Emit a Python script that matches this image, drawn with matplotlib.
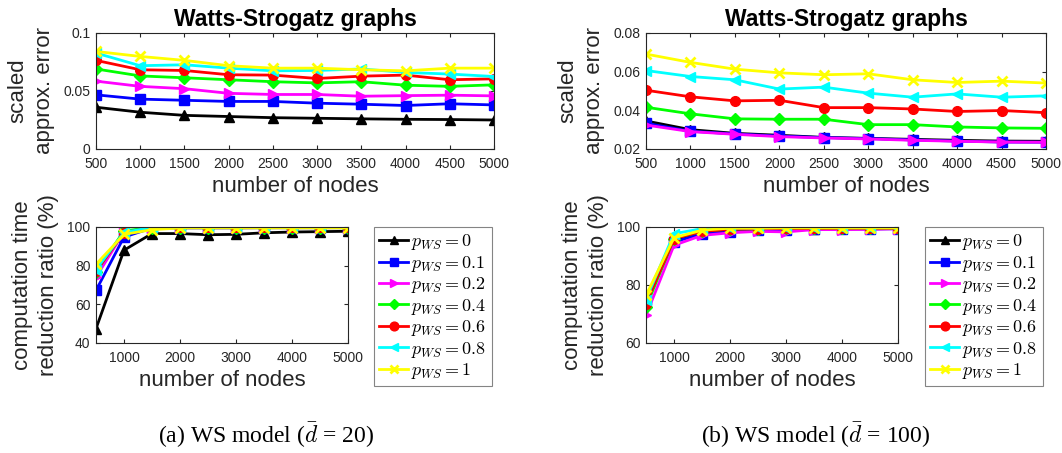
import matplotlib
matplotlib.use('Agg')
import matplotlib.pyplot as plt

plt.rcParams['font.family'] = ['Liberation Sans', 'DejaVu Sans']
plt.rcParams['mathtext.fontset'] = 'cm'

nodes = [500, 1000, 1500, 2000, 2500, 3000, 3500, 4000, 4500, 5000]
p_labels = [r'$p_{WS} = 0$', r'$p_{WS} = 0.1$', r'$p_{WS} = 0.2$', r'$p_{WS} = 0.4$',
            r'$p_{WS} = 0.6$', r'$p_{WS} = 0.8$', r'$p_{WS} = 1$']
colors = [(0, 0, 0), (0, 0, 1), (1, 0, 1), (0, 1, 0), (1, 0, 0), (0, 1, 1), (1, 1, 0)]
markers = ['^', 's', '>', 'D', 'o', '<', 'x']

# (a) d = 20, scaled approx. error
err_a = [
    [0.036, 0.0317, 0.029, 0.028, 0.027, 0.0265, 0.026, 0.0256, 0.0254, 0.025],
    [0.0467, 0.043, 0.042, 0.041, 0.041, 0.0395, 0.0386, 0.0375, 0.039, 0.038],
    [0.0585, 0.054, 0.052, 0.048, 0.047, 0.047, 0.0455, 0.046, 0.0464, 0.0458],
    [0.069, 0.063, 0.0614, 0.0597, 0.058, 0.057, 0.058, 0.055, 0.054, 0.0553],
    [0.0764, 0.0683, 0.0677, 0.064, 0.0637, 0.0608, 0.0628, 0.0637, 0.0597, 0.0605],
    [0.0827, 0.0718, 0.0726, 0.0697, 0.0674, 0.0677, 0.069, 0.066, 0.0646, 0.0625],
    [0.0841, 0.0798, 0.0764, 0.0718, 0.0697, 0.0697, 0.0683, 0.0674, 0.0697, 0.0697],
]
# (b) d = 100, scaled approx. error
err_b = [
    [0.0345, 0.030, 0.0281, 0.0271, 0.026, 0.0255, 0.025, 0.0245, 0.0241, 0.024],
    [0.0333, 0.0292, 0.0278, 0.0267, 0.0259, 0.0254, 0.0247, 0.0241, 0.0236, 0.0235],
    [0.0324, 0.029, 0.0276, 0.0264, 0.0257, 0.0252, 0.0245, 0.024, 0.0236, 0.0235],
    [0.0416, 0.0382, 0.0356, 0.0354, 0.0354, 0.0326, 0.0326, 0.0314, 0.0309, 0.0307],
    [0.0504, 0.047, 0.0449, 0.0452, 0.0414, 0.0414, 0.0407, 0.0394, 0.0399, 0.0388],
    [0.0606, 0.0575, 0.0558, 0.051, 0.052, 0.0489, 0.0468, 0.0485, 0.0468, 0.0475],
    [0.0691, 0.0648, 0.0613, 0.0594, 0.0584, 0.0589, 0.0558, 0.0544, 0.0551, 0.0541],
]
# (a) computation time reduction ratio (%)
ratio_a = [
    [47.4, 88.0, 96.6, 96.6, 96.0, 96.2, 97.0, 97.4, 97.6, 97.8],
    [67.2, 94.8, 99.5, 99.5, 99.5, 99.5, 99.6, 99.6, 99.6, 99.6],
    [74.0, 97.4, 99.7, 99.7, 99.7, 99.7, 99.7, 99.7, 99.7, 99.7],
    [76.7, 98.0, 99.7, 99.7, 99.7, 99.7, 99.7, 99.7, 99.7, 99.7],
    [77.2, 97.0, 99.8, 99.8, 99.8, 99.8, 99.8, 99.8, 99.8, 99.8],
    [78.0, 97.2, 99.8, 99.8, 99.8, 99.8, 99.8, 99.8, 99.8, 99.8],
    [80.7, 96.2, 98.6, 99.5, 99.5, 99.5, 99.5, 99.5, 99.5, 99.5],
]
# (b) computation time reduction ratio (%)
ratio_b = [
    [75.3, 95.4, 98.3, 98.9, 99.3, 99.3, 99.4, 99.5, 99.5, 99.5],
    [74.7, 94.8, 97.7, 98.3, 99.0, 99.0, 99.2, 99.3, 99.3, 99.4],
    [69.5, 93.7, 97.1, 98.0, 98.5, 98.3, 99.1, 99.1, 99.2, 99.4],
    [72.4, 96.0, 98.6, 99.3, 99.4, 99.5, 99.5, 99.6, 99.6, 99.6],
    [73.6, 96.0, 98.5, 99.2, 99.4, 99.5, 99.5, 99.6, 99.6, 99.6],
    [75.0, 97.7, 99.4, 99.7, 99.7, 99.8, 99.8, 99.8, 99.8, 99.8],
    [76.4, 96.3, 98.9, 99.6, 99.6, 99.7, 99.7, 99.7, 99.7, 99.7],
]

W, H = 1062, 453
fig = plt.figure(figsize=(W / 100, H / 100), dpi=100)


def ax_px(l, t, r, b):
    return fig.add_axes([l / W, 1 - b / H, (r - l) / W, (b - t) / H])


grey = (0.15, 0.15, 0.15)


def style(ax):
    ax.tick_params(direction='in', top=True, right=True, labelsize=10,
                   colors=grey, length=3)
    ax.tick_params(axis='x', pad=6)
    ax.tick_params(axis='y', pad=4)
    for s in ax.spines.values():
        s.set_color(grey)
        s.set_linewidth(0.8)


def draw(ax, data):
    for i, ys in enumerate(data):
        ms = 7 if markers[i] != 'D' else 6
        ax.plot(nodes, ys, color=colors[i], marker=markers[i], lw=2, ms=ms,
                mew=2 if markers[i] == 'x' else 1, label=p_labels[i])


# top row
for (l, r), data, yl, yt, ytl in [
        ((96, 494), err_a, (0, 0.1), [0, 0.05, 0.1], ['0', '0.05', '0.1']),
        ((646, 1046), err_b, (0.02, 0.08), [0.02, 0.04, 0.06, 0.08],
         ['0.02', '0.04', '0.06', '0.08'])]:
    ax = ax_px(l, 33, r, 149)
    draw(ax, data)
    ax.set_xlim(500, 5000)
    ax.set_ylim(*yl)
    ax.set_xticks(nodes)
    ax.set_yticks(yt)
    ax.set_yticklabels(ytl)
    style(ax)
    ax.set_title('Watts-Strogatz graphs', fontsize=16.5, fontweight='bold', pad=5)
    ax.set_xlabel('number of nodes', fontsize=16, color=grey, labelpad=3)
    ax.set_ylabel('scaled\napprox. error', fontsize=16, color=grey, labelpad=6,
                  linespacing=1.35)

# bottom row
for (l, r), data, yl, yt, lx in [
        ((96, 348), ratio_a, (40, 100), [40, 60, 80, 100], 374),
        ((646, 898), ratio_b, (60, 100), [60, 80, 100], 925)]:
    ax = ax_px(l, 227, r, 343)
    draw(ax, data)
    ax.set_xlim(500, 5000)
    ax.set_ylim(*yl)
    ax.set_xticks([1000, 2000, 3000, 4000, 5000])
    ax.set_yticks(yt)
    style(ax)
    ax.set_xlabel('number of nodes', fontsize=16, color=grey, labelpad=3)
    ax.set_ylabel('computation time\nreduction ratio (%)', fontsize=16, color=grey,
                  labelpad=6, linespacing=1.3)
    leg = ax.legend(loc='upper left', bbox_to_anchor=(lx / W, 1 - 227 / H),
                    bbox_transform=fig.transFigure, fontsize=13, frameon=True,
                    fancybox=False, edgecolor=(0.4, 0.4, 0.4), handlelength=1.6,
                    handletextpad=0.15, labelspacing=0.08, borderpad=0.3,
                    borderaxespad=0, markerscale=0.9)
    leg.get_frame().set_linewidth(0.8)

fig.text(266 / W, 1 - 435 / H, r'(a) WS model ($\bar{d}$ = 20)', ha='center',
         va='center', fontsize=17, family='Liberation Serif')
fig.text(816 / W, 1 - 435 / H, r'(b) WS model ($\bar{d}$ = 100)', ha='center',
         va='center', fontsize=17, family='Liberation Serif')

fig.savefig('out.png', dpi=100)
